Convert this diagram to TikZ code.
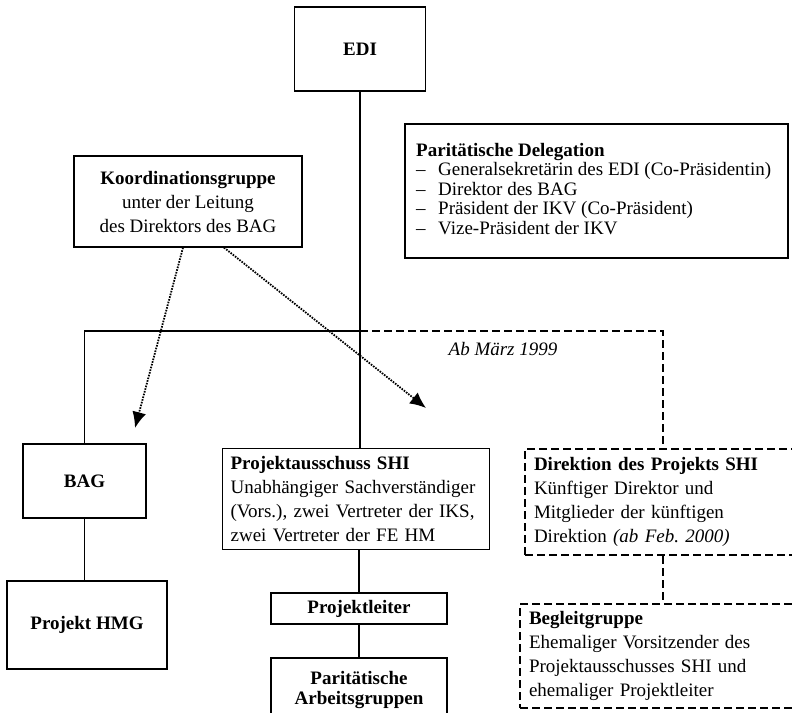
\documentclass[tikz,border=0pt]{standalone}
\usepackage{fontspec}
\setmainfont{Liberation Serif}
\usetikzlibrary{arrows.meta}

\begin{document}
\begin{tikzpicture}[x=1pt, y=-1pt,
    orgbox/.style={draw, line width=1.2pt, inner sep=0pt, align=center,
        font=\fontsize{19}{24}\selectfont},
    planbox/.style={draw, line width=2pt, dash pattern=on 8pt off 4pt,
        inner xsep=9pt, inner ysep=0pt, align=left, anchor=north west,
        font=\fontsize{19}{24}\selectfont},
    link/.style={line width=1.2pt},
    planlink/.style={line width=2pt, dash pattern=on 8pt off 4pt},
    steer/.style={line width=1.8pt, dash pattern=on 1.6pt off 1.2pt,
        -{Latex[length=16pt, width=14pt]}}]
    \useasboundingbox (0,0) rectangle (792,712);

    % Oberste Ebene
    \node[orgbox, minimum width=131, minimum height=84] (edi) at (360,49) {\textbf{EDI}};
    \node[orgbox, minimum width=383, minimum height=134] (deleg) at (596.5,191) {};
    \node[anchor=north west, align=left, inner sep=0pt,
        font=\fontsize{19}{19.5}\selectfont] (delegtext) at (416,143)
        {\textbf{Paritätische Delegation}\\
         \makebox[22pt][l]{--}Generalsekretärin des EDI (Co-Präsidentin)\\
         \makebox[22pt][l]{--}Direktor des BAG\\
         \makebox[22pt][l]{--}Präsident der IKV (Co-Präsident)\\
         \makebox[22pt][l]{--}Vize-Präsident der IKV};
    \node[orgbox, minimum width=228, minimum height=91] (koord) at (188,201.5)
        {\textbf{Koordinationsgruppe}\\unter der Leitung\\des Direktors des BAG};

    % Mittlere Ebene
    \node[orgbox, minimum width=123, minimum height=74] (bag) at (84.5,481) {\textbf{BAG}};
    \node[orgbox, align=left, anchor=north west, inner xsep=8pt, text width=251,
        minimum height=101] (pa) at (222,448)
        {\textbf{Projektausschuss SHI}\\Unabhängiger Sachverständiger\\(Vors.), zwei Vertreter der IKS,\\zwei Vertreter der FE HM};
    \node[planbox, text width=300, minimum height=106] (dir) at (524,448)
        {\textbf{Direktion des Projekts SHI}\\Künftiger Direktor und\\Mitglieder der künftigen\\Direktion \textit{(ab Feb.\ 2000)}};
    \node[font=\fontsize{19}{24}\selectfont] (since) at (503,349) {\textit{Ab März 1999}};

    % Untere Ebene
    \node[orgbox, minimum width=160, minimum height=88] (hmg) at (87,625) {\textbf{Projekt HMG}};
    \node[orgbox, minimum width=176, minimum height=31] (leiter) at (359,608.5) {\textbf{Projektleiter}};
    \node[orgbox, minimum width=176, minimum height=64,
        font=\fontsize{19}{20}\selectfont] (arbeit) at (359,690)
        {\textbf{Paritätische}\\\textbf{Arbeitsgruppen}};
    \node[planbox, text width=300, minimum height=104] (beg) at (519,603)
        {\textbf{Begleitgruppe}\\Ehemaliger Vorsitzender des\\Projektausschusses SHI und\\ehemaliger Projektleiter};

    % Verbindungen
    \coordinate (split) at (360,331);
    \coordinate (dirlink) at (663,448);
    \draw[link] (edi) -- (edi |- pa.north);
    \draw[link] (split) -| (bag.north);
    \draw[link] (bag.south) -- (bag.south |- hmg.north);
    \draw[link] (leiter.north |- pa.south) -- (leiter);
    \draw[link] (leiter) -- (arbeit);
    \draw[planlink] (split) -| (dirlink);
    \draw[planlink] (dirlink |- dir.south) -- (dirlink |- beg.north);

    % Koordination
    \coordinate (bagtip) at (135,428);
    \coordinate (patip) at (426,408);
    \draw[steer] ([xshift=-5pt]koord.south) -- (bagtip);
    \draw[steer] ([xshift=36pt]koord.south) -- (patip);
\end{tikzpicture}
\end{document}
